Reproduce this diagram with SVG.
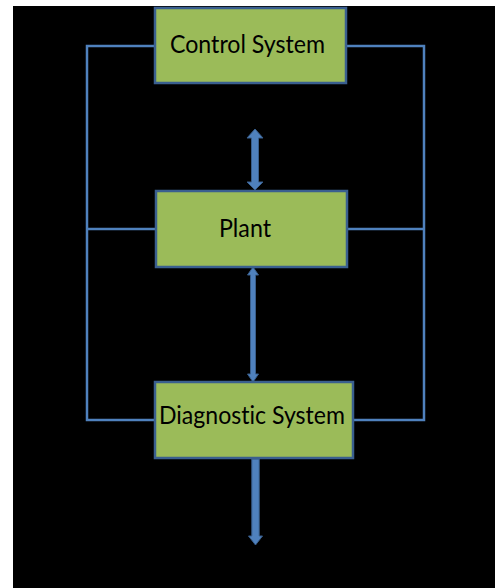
<svg xmlns="http://www.w3.org/2000/svg" width="496" height="588" viewBox="0 0 496 588">
<style>
.box{fill:#9bbb59;stroke:#3a5f8f;stroke-width:2.5}
.lbl{font-family:Lato,"Open Sans","Liberation Sans",sans-serif;font-size:25px;fill:#000;font-variant-ligatures:none}
.wire{fill:none;stroke:#4f81bd;stroke-width:2.5}
.arr{fill:#4f81bd;stroke:#385d8a;stroke-width:1}
</style>
<rect x="0" y="0" width="496" height="588" fill="#fff"/>
<rect x="13" y="6" width="482" height="582" fill="#000"/>
<g id="connectors">
<polyline class="wire" points="155,46 87,46 87,420 155,420"/>
<polyline class="wire" points="346,46 424,46 424,420 353,420"/>
<line class="wire" x1="87" y1="229" x2="156" y2="229"/>
<line class="wire" x1="347" y1="229" x2="424" y2="229"/>
<polygon class="arr" points="255,129 263,138 258.5,138 258.5,182 263,182 255,190 247,182 251.5,182 251.5,138 247,138"/>
<polygon class="arr" points="253,267 258.5,275 255.5,275 255.5,374 258.5,374 253,382 247.5,374 250.5,374 250.5,275 247.5,275"/>
<polygon class="arr" points="251.8,459 259.2,459 259.2,536 262.5,536 255.5,545 248.5,536 251.8,536"/>
</g>
<g id="control-system">
<rect class="box" x="155" y="8" width="191" height="75"/>
<text class="lbl" x="170" y="53" textLength="155" lengthAdjust="spacingAndGlyphs">Control System</text>
</g>
<g id="plant">
<rect class="box" x="156" y="191" width="191" height="76"/>
<text class="lbl" x="219" y="237" textLength="52" lengthAdjust="spacingAndGlyphs">Plant</text>
</g>
<g id="diagnostic-system">
<rect class="box" x="155" y="382" width="198" height="76"/>
<text class="lbl" x="159" y="424" textLength="186" lengthAdjust="spacingAndGlyphs">Diagnostic System</text>
</g>
</svg>
